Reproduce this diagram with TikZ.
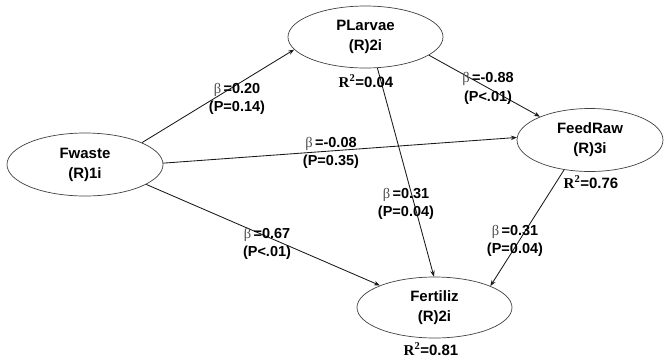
\documentclass[tikz,border=0pt]{standalone}
\usepackage{fontspec}
\setmainfont{Liberation Sans}
\newfontfamily\serifR{Liberation Serif}
\usetikzlibrary{shapes.geometric,arrows.meta}
\newcommand\bsym{{\serifR\mdseries\color{black!70}β}}
\newcommand\rsq{{\serifR\bfseries R\textsuperscript{2}}}
\tikzset{
  latent/.style={ellipse, draw=black!75, line width=0.7pt, inner sep=0pt,
    align=center, font=\fontsize{15}{20}\selectfont\bfseries},
  path/.style={draw=black!90, line width=0.85pt, -{Stealth[length=6pt,width=4.5pt]}},
  coef/.style={align=center, inner sep=0pt, font=\fontsize{14.5}{18.5}\selectfont\bfseries},
  rsqlab/.style={inner sep=0pt, font=\fontsize{15}{17}\selectfont\bfseries}
}
\begin{document}
\begin{tikzpicture}[x=1pt,y=-1pt]
\path[use as bounding box] (0,0) rectangle (665,360);
\node[latent, minimum width=156pt, minimum height=63pt] (fw) at (85,164.5) {Fwaste\\(R)1i};
\node[latent, minimum width=155pt, minimum height=62pt] (pl) at (365.5,37) {PLarvae\\(R)2i};
\node[latent, minimum width=146pt, minimum height=63pt] (fr) at (590,140) {FeedRaw\\(R)3i};
\node[latent, minimum width=155pt, minimum height=61pt] (fe) at (434.5,307.5) {Fertiliz\\(R)2i};

\draw[path] (fw.21) -- (pl.190);
\draw[path] (fw.1) -- (fr.178);
\draw[path] (fw.-18) -- (fe.158);
\draw[path] (pl.-16) -- (fr.155);
\draw[path] (pl.-69) -- (fe.91);
\draw[path] (fr.229) -- (fe.21);

\node[coef] (c1) at (237,99) {\bsym\,=0.20\\(P=0.14)};
\node[coef] (c2) at (331,153) {\bsym\,=-0.08\\(P=0.35)};
\node[coef] (c3) at (488,88.5) {\bsym\,=-0.88\\(P<.01)};
\node[coef] (c4) at (406,204) {\bsym\,=0.31\\(P=0.04)};
\node[coef] (c5) at (515,241) {\bsym\,=0.31\\(P=0.04)};
\node[coef] (c6) at (267,244) {\bsym\,=0.67\\(P<.01)};

\node[rsqlab] (r1) at (366,81) {\rsq=0.04};
\node[rsqlab] (r2) at (591,182) {\rsq=0.76};
\node[rsqlab] (r3) at (431,349) {\rsq=0.81};
\end{tikzpicture}
\end{document}
